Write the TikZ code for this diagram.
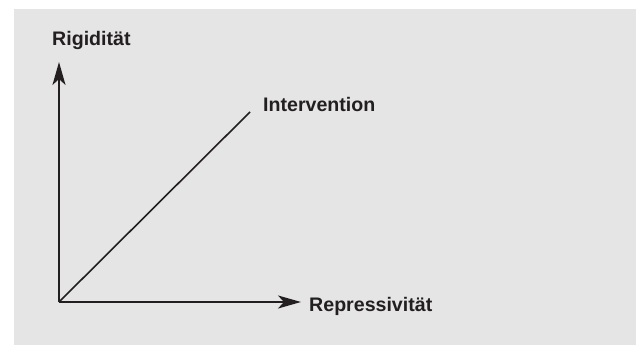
\documentclass[tikz,border=0pt]{standalone}
\usepackage{fontspec}
\setmainfont{Liberation Sans}
\usetikzlibrary{arrows.meta,backgrounds}
\definecolor{paper}{HTML}{E5E5E6}
\definecolor{ink}{HTML}{231F20}

\begin{document}
\begin{tikzpicture}[x=1pt,y=1pt]
		\tikzset{achse/.style={line width=2.2pt,ink,-{Stealth[length=23pt,width=13pt,inset=6pt]}},
			beschriftung/.style={anchor=base west,inner sep=0pt,ink,font=\fontsize{19.6}{22}\selectfont\bfseries}}
		\useasboundingbox (0,0) rectangle (636,345);
		
		\coordinate (o) at (59,43);
		\coordinate (ytip) at (59,283);
		\coordinate (xtip) at (301,43);
		\coordinate (diag) at (250,233);
		
		\node[beschriftung] (rig) at (52,299) {Rigidität};
		\node[beschriftung] (int) at (263,233) {Intervention};
		\node[beschriftung] (rep) at (309,34) {Repressivität};
		
		\draw[achse] (o) -- (ytip);
		\draw[achse] (o) -- (xtip);
		\draw[line width=1.6pt,ink] (o) -- (diag);
		
		\begin{scope}[on background layer]
			\fill[paper] (14,0) rectangle (636,336);
		\end{scope}
	\end{tikzpicture}
\end{document}
